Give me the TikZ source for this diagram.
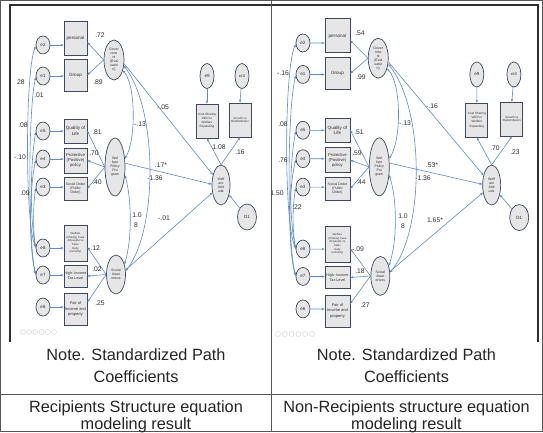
\documentclass[tikz,border=0pt]{standalone}
\usepackage{fontspec}
\setmainfont{Liberation Sans}
\usetikzlibrary{arrows.meta,shapes.geometric}
\definecolor{edgeblue}{HTML}{5B8BD0}
\definecolor{nodeline}{HTML}{3B4A62}
\definecolor{nodefill}{HTML}{E6E6E6}
\definecolor{labgray}{HTML}{303030}
\definecolor{framegray}{HTML}{2E2E2E}
\definecolor{tablegray}{HTML}{555555}
\definecolor{icongray}{HTML}{D8D8D8}
\newcommand{\fsz}[2]{\fontsize{#1}{#2}\selectfont}
\newcounter{lbc}
\newcommand{\lbl}[3]{\stepcounter{lbc}\node[lab] (lab\arabic{lbc}) at (#1,#2) {#3};}
\newcommand{\bw}{23pt}
\newcommand{\semdiag}[1]{%
  % error terms
  \node[errn] (#1e2) at (43,45) {e2};
  \node[errn] (#1e1) at (43,76) {e1};
  \node[errn] (#1e5) at (43,131) {e5};
  \node[errn] (#1e4) at (43,159) {e4};
  \node[errn] (#1e3) at (43,187) {e3};
  \node[errn] (#1e8) at (43,248) {e8};
  \node[errn] (#1e7) at (43,275) {e7};
  \node[errn] (#1e6) at (43,307) {e6};
  % observed
  \node[obsbox, minimum height=34pt, font=\fsz{4.6}{5.2}] (#1pers) at (75.5,38) {personal};
  \node[obsbox, minimum height=32pt, font=\fsz{4.6}{5.2}] (#1grp) at (75.5,75) {Group};
  \node[obsbox, minimum height=24pt, font=\fsz{4.6}{5.6}] (#1qual) at (75.5,131) {Quality of\\Life};
  \node[obsbox, minimum height=25pt, font=\fsz{4.2}{5.3}] (#1prot) at (75.5,160.5) {Protective\\(Positive)\\policy};
  \node[obsbox, minimum height=23pt, font=\fsz{3.5}{4.4}] (#1soc) at (75.5,188.5) {Social Order\\(Public\\Order)};
  \node[obsbox, minimum height=36pt, font=\fsz{2.8}{3.6}] (#1char) at (75.5,243) {Welfare\\(Charity) Case\\All people vs\\Selec\\tively\\(minority)};
  \node[obsbox, minimum height=22pt, font=\fsz{3.7}{4.8}] (#1tax) at (75.5,276) {High- Income\\Tax Level};
  \node[obsbox, minimum height=32pt, font=\fsz{4}{5.1}] (#1fair) at (75.5,309) {Fair of\\Income and\\property};
  % latent
  \node[latn, minimum height=40pt] (#1gov) at (114,60) {Gover\\nme\\nt\\(Eval\\uatio\\n)};
  \node[latn, minimum height=58pt] (#1wp) at (115,167) {Wel\\fare\\Policy\\Pro\\gram};
  \node[latn, minimum width=19pt, minimum height=39pt] (#1sa) at (116,274.5) {Social\\Awar\\eness};
  \node[latn, minimum width=18pt, minimum height=40pt] (#1att) at (221,185) {Welf\\are\\Attit\\ude};
  \node[errn, minimum height=25pt] (#1e9) at (207,76) {e9};
  \node[errn, minimum height=25pt, font=\fsz{3.8}{4.2}] (#1e10) at (242,76) {e10};
  \node[obsbox, minimum width=22pt, minimum height=34pt, font=\fsz{3.1}{4.1}] (#1cost) at (207,121) {Cost Sharing\\Will For\\Welfare\\Expanding};
  \node[obsbox, minimum width=22pt, minimum height=34pt, font=\fsz{2.9}{3.7}] (#1grow) at (240,120) {Growth vs\\Redistribution};
  \node[errn, minimum width=19pt, minimum height=26pt] (#1d1) at (247,217) {D1};
  % error arrows
  \foreach \ee/\bb in {e2/pers,e1/grp,e5/qual,e4/prot,e3/soc,e8/char,e7/tax,e6/fair}{
    \draw[arr] (#1\ee) -- (#1\ee -| #1\bb.west);
  }
  \draw[arr] (#1e9) -- (#1cost.north);
  \draw[arr] (#1e10) -- (#1grow.north);
  % loadings
  \draw[arr] (#1gov.west) -- (#1pers.-20);
  \draw[arr] (#1gov.west) -- (#1grp.east);
  \draw[arr] (#1wp.west) -- (#1qual.east);
  \draw[arr] (#1wp.west) -- (#1prot.east);
  \draw[arr] (#1wp.west) -- (#1soc.east);
  \draw[arr] (#1sa.west) -- (#1char.-20);
  \draw[arr] (#1sa.west) -- (#1tax.east);
  \draw[arr] (#1sa.west) -- (#1fair.30);
  \draw[arr] (#1att.north) -- (#1cost.south);
  \draw[arr] (#1att.north) -- (#1grow.south);
  % structural paths
  \draw[arr] (#1gov.-20) -- (#1att);
  \draw[arr] (#1wp.20) -- (#1att.175);
  \draw[arr] (#1sa.25) -- (#1att);
  \draw[arr] (#1d1) -- (#1att);
  % latent covariances
  \draw[cov] (#1gov.-50) .. controls (136,85) and (136,140) .. (#1wp.40);
  \draw[cov] (#1gov.-30) .. controls (158,110) and (158,230) .. (#1sa.20);
  \draw[cov] (#1wp.-40) .. controls (132,200) and (132,240) .. (#1sa.50);
  % error covariances
  \draw[cov] (#1e2.190) .. controls (25,70) and (25,225) .. (#1e8.170);
  \draw[cov] (#1e1.190) .. controls (28,110) and (28,245) .. (#1e7.170);
  \draw[cov] (#1e5.190) .. controls (30,165) and (30,220) .. (#1e8.175);
  \draw[cov] (#1e4.190) .. controls (29,190) and (29,250) .. (#1e7.175);
  \draw[cov] (#1e3.190) .. controls (33,205) and (33,230) .. (#1e8.180);
}
\tikzset{
  errn/.style={ellipse, draw=nodeline, fill=nodefill, line width=0.7pt, minimum width=14pt, minimum height=18pt, inner sep=0pt, font=\fsz{4.5}{5}, text=labgray},
  latn/.style={ellipse, draw=nodeline, fill=nodefill, line width=0.7pt, minimum width=20pt, inner sep=0pt, align=center, font=\fsz{3.5}{4}, text=labgray},
  obsbox/.style={rectangle, draw=nodeline, fill=nodefill, line width=0.8pt, minimum width=\bw, inner sep=0.5pt, align=center, text=labgray},
  arr/.style={draw=edgeblue, line width=0.6pt, -{Stealth[length=3pt,width=2.4pt]}},
  cov/.style={draw=edgeblue, line width=0.6pt, {Stealth[length=3pt,width=2.4pt]}-{Stealth[length=3pt,width=2.4pt]}},
  lab/.style={font=\fsz{6.8}{7.5}, text=labgray, inner sep=0pt},
  captxt/.style={font=\fsz{16.3}{19}, text=black!85, inner sep=0pt},
  iconc/.style={draw=icongray, line width=0.5pt, circle, minimum size=5pt, inner sep=0pt}
}
\begin{document}
\begin{tikzpicture}[x=1pt,y=-1pt]
\useasboundingbox (0,0) rectangle (543,432);
\fill[white] (0,0) rectangle (543,432);
% ---------- left diagram ----------
\semdiag{L}
\lbl{100}{35}{.72}
\lbl{98}{82}{.89}
\lbl{21}{82}{28}
\lbl{39}{95}{.01}
\lbl{23}{125}{.08}
\lbl{20}{157}{-.10}
\lbl{25}{193}{.09}
\lbl{97}{132}{.81}
\lbl{94}{153}{.70}
\lbl{97}{182}{.40}
\lbl{94}{248}{-.12}
\lbl{97}{269}{.02}
\lbl{100}{303}{.25}
\lbl{163}{107}{-.05}
\lbl{140}{124}{-.13}
\lbl{161}{165}{.17*}
\lbl{155}{178}{-1.36}
\lbl{137}{215}{1.0}
\lbl{136}{225}{8}
\lbl{164}{218}{-.01}
\lbl{219}{147}{1.08}
\lbl{240}{152}{.16}
\foreach \i in {0,...,5}{\node[iconc] (iconL\i) at (23+6.2*\i,332) {};}
% ---------- right diagram ----------
\renewcommand{\bw}{25pt}
\begin{scope}[xshift=257.4pt, yshift=2.7pt, xscale=1.06, yscale=1.015]
\semdiag{R}
\end{scope}
\lbl{360}{33}{.54}
\lbl{361}{77}{.99}
\lbl{283}{73}{-.16}
\lbl{297}{207}{.22}
\lbl{283}{124}{.08}
\lbl{283}{160}{.76}
\lbl{277}{193}{1.50}
\lbl{359}{132}{.51}
\lbl{357}{153}{.59}
\lbl{361}{182}{.44}
\lbl{358}{249}{-.09}
\lbl{360}{271}{.18}
\lbl{365}{305}{.27}
\lbl{432}{106}{-.16}
\lbl{405}{123}{-.13}
\lbl{432}{165}{.53*}
\lbl{423}{178}{-1.36}
\lbl{403}{216}{1.0}
\lbl{403}{226}{8}
\lbl{435}{220}{1.65*}
\lbl{495}{148}{.70}
\lbl{515}{152}{.23}
\foreach \i in {0,...,5}{\node[iconc] (iconR\i) at (278+6.8*\i,334) {};}
% ---------- frames and table ----------
\draw[framegray, line width=1.3pt] (10,342) -- (10,5) -- (271,5);
\draw[framegray, line width=1.3pt] (271,5) -- (538,5) -- (538,342);
\draw[tablegray, line width=0.9pt] (0.5,0.5) rectangle (542.5,431.5);
\draw[tablegray, line width=0.9pt] (271,0.5) -- (271,431.5);
\draw[tablegray, line width=0.9pt] (0.5,394) -- (542.5,394);
% ---------- captions ----------
\node[captxt] (c1) at (136,355) {Note. Standardized Path};
\node[captxt] (c2) at (136,377) {Coefficients};
\node[captxt] (c3) at (136,408) {Recipients Structure equation};
\node[captxt] (c4) at (136,425.5) {modeling result};
\node[captxt] (c5) at (406.5,355) {Note. Standardized Path};
\node[captxt] (c6) at (406.5,377) {Coefficients};
\node[captxt] (c7) at (406.5,408) {Non-Recipients structure equation};
\node[captxt] (c8) at (406.5,425.5) {modeling result};
\end{tikzpicture}
\end{document}
